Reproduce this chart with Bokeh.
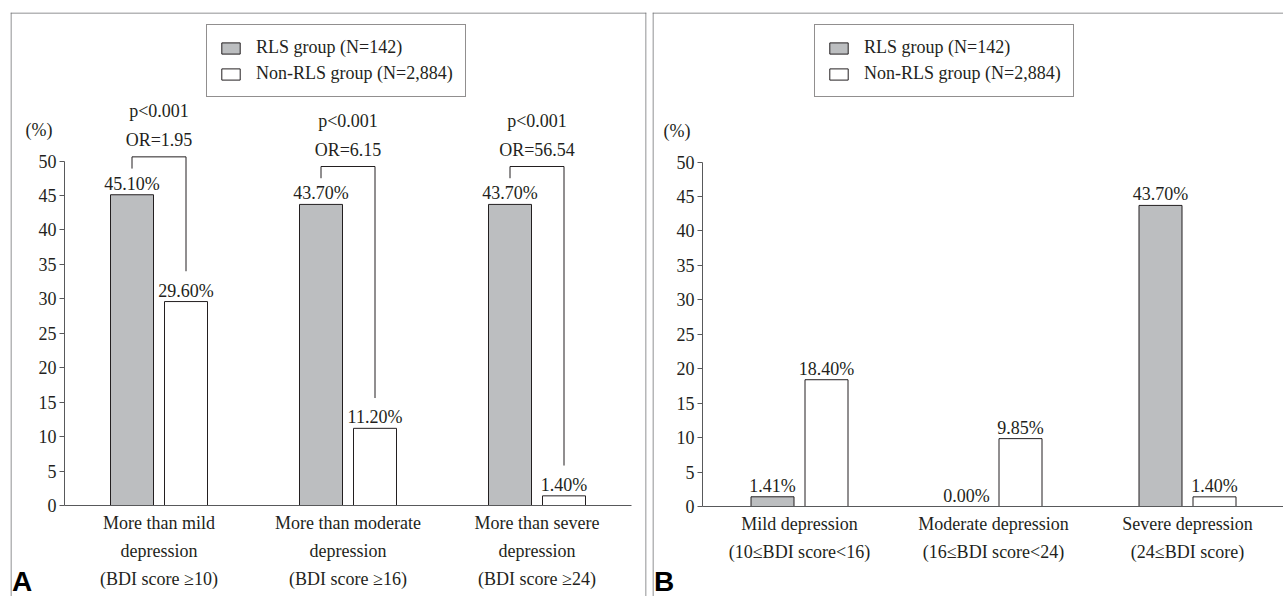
from bokeh.plotting import figure
from bokeh.models import LinearAxis, FixedTicker, Legend, LegendItem, Span
from bokeh.layouts import row
from bokeh.embed import file_html
from bokeh.resources import INLINE
from bokeh.core.properties import value

# ---------------- data ----------------
categories_a = ["More than mild\ndepression\n(BDI score \u226510)",
                "More than moderate\ndepression\n(BDI score \u226516)",
                "More than severe\ndepression\n(BDI score \u226524)"]
categories_b = ["Mild depression\n(10\u2264BDI score<16)",
                "Moderate depression\n(16\u2264BDI score<24)",
                "Severe depression\n(24\u2264BDI score)"]
rls_a = [45.10, 43.70, 43.70]
non_a = [29.60, 11.20, 1.40]
rls_b = [1.41, 0.00, 43.70]
non_b = [18.40, 9.85, 1.40]
p_text = ["p<0.001", "p<0.001", "p<0.001"]
or_text = ["OR=1.95", "OR=6.15", "OR=56.54"]
y_ticks = [0, 5, 10, 15, 20, 25, 30, 35, 40, 45, 50]
series_names = ["RLS group (N=142)", "Non-RLS group (N=2,884)"]

SERIF = "Liberation Serif"
TXT = "#231f20"
GRAY = "#bcbec0"
AXC = "#58595b"
BORDER = "#6d6e71"


def make_panel(cats, rls, non, letter, fig_w, mb_left, mb_right, c0, sx, z,
               legend_x, brackets, right_border):
    fig_h = 596
    mb_top = 12
    frame_w = fig_w - mb_left - mb_right
    frame_h = fig_h - mb_top
    sy = 6.89
    x_start = -c0 / sx
    x_end = (frame_w - c0) / sx
    y_end = z / sy
    y_start = -(frame_h - z) / sy

    p = figure(width=fig_w, height=fig_h, output_backend="svg", toolbar_location=None,
               x_range=(x_start, x_end), y_range=(y_start, y_end),
               x_axis_location=None, y_axis_location=None,
               min_border_left=mb_left, min_border_right=mb_right,
               min_border_top=mb_top, min_border_bottom=0)
    p.outline_line_color = None
    p.grid.visible = False
    p.background_fill_color = "white"
    p.border_fill_color = "white"

    # panel border (left, top, right)
    p.add_layout(Span(location=x_start + 0.5 / sx, dimension="height", line_color=BORDER, line_width=1))
    p.add_layout(Span(location=y_end - 0.5 / sy, dimension="width", line_color=BORDER, line_width=1))
    if right_border:
        p.add_layout(Span(location=x_end - 0.5 / sx, dimension="height", line_color=BORDER, line_width=1))

    # axes
    yax = LinearAxis(fixed_location=-0.5, bounds=(0, 50), ticker=FixedTicker(ticks=y_ticks))
    yax.axis_line_color = AXC
    yax.major_tick_line_color = AXC
    yax.major_tick_out = 5
    yax.major_tick_in = 0
    yax.minor_tick_out = 0
    yax.minor_tick_in = 0
    yax.major_label_standoff = 3
    yax.major_label_text_font = SERIF
    yax.major_label_text_font_size = "18px"
    yax.major_label_text_color = TXT
    p.add_layout(yax, "left")

    xax = LinearAxis(fixed_location=0, bounds=(-0.5, 2.5), ticker=FixedTicker(ticks=[0, 1, 2]))
    xax.major_label_overrides = {i: c for i, c in enumerate(cats)}
    xax.axis_line_color = AXC
    xax.major_tick_out = 0
    xax.major_tick_in = 0
    xax.minor_tick_out = 0
    xax.minor_tick_in = 0
    xax.major_label_standoff = 7
    xax.major_label_text_font = SERIF
    xax.major_label_text_font_size = "18px"
    xax.major_label_text_color = TXT
    xax.major_label_text_line_height = 1.42
    p.add_layout(xax, "below")

    bw = 43 / sx
    off = 27 / sx
    xs = list(range(len(cats)))
    xg = [x - off for x in xs]
    xw = [x + off for x in xs]

    r1 = p.vbar(x=xg, top=rls, bottom=0, width=bw, fill_color=GRAY, line_color=TXT, line_width=1)
    r2 = p.vbar(x=xw, top=non, bottom=0, width=bw, fill_color="white", line_color=TXT, line_width=1)

    lab_r = ["%.2f%%" % v for v in rls]
    lab_n = ["%.2f%%" % v for v in non]
    common = dict(text_font=value(SERIF), text_font_size="18px", text_color=TXT,
                  text_align="center", text_baseline="alphabetic")
    p.text(x=xg, y=rls, text=lab_r, y_offset=-11, **common)
    p.text(x=xw, y=non, text=lab_n, y_offset=-11, **common)

    if brackets:
        bxs = [[g, g, w, w] for g, w in zip(xg, xw)]
        bys = [[r + 3.8, r + 5.5, r + 5.5, n + 4.4] for r, n in zip(rls, non)]
        p.multi_line(xs=bxs, ys=bys, line_color=TXT, line_width=1)
        tops = [r + 5.5 for r in rls]
        p.text(x=xs, y=tops, text=or_text, y_offset=-17, **common)
        p.text(x=xs, y=tops, text=p_text, y_offset=-46, **common)

    # "(%)" unit label
    p.text(x=[-0.5 - 25.5 / sx], y=[50 + 31 / sy], text=["(%)"],
           text_font=value(SERIF), text_font_size="18px", text_color=TXT,
           text_align="center", text_baseline="middle")
    # panel letter
    p.text(x=[x_start + 11.5 / sx], y=[(z - 569) / sy], text=[letter],
           text_font=value("Liberation Sans"), text_font_style="bold", text_font_size="28px",
           text_color="#000000", text_align="center", text_baseline="middle")

    legend = Legend(items=[LegendItem(label=series_names[0], renderers=[r1]),
                           LegendItem(label=series_names[1], renderers=[r2])],
                    location=(legend_x, frame_h - 85), orientation="vertical")
    legend.label_text_font = SERIF
    legend.label_text_font_size = "18px"
    legend.label_text_color = TXT
    legend.glyph_width = 23
    legend.glyph_height = 14
    legend.label_height = 20
    legend.spacing = 5
    legend.padding = 12
    legend.margin = 0
    legend.label_standoff = 14
    legend.border_line_color = TXT
    legend.border_line_width = 1
    legend.background_fill_alpha = 1
    legend.background_fill_color = "white"
    p.add_layout(legend, "center")
    return p


pa = make_panel(categories_a, rls_a, non_a, "A", fig_w=648, mb_left=10, mb_right=2,
                c0=148.5, sx=189.0, z=493.0, legend_x=196,
                brackets=True, right_border=True)
pb = make_panel(categories_b, rls_b, non_b, "B", fig_w=635, mb_left=4, mb_right=0,
                c0=147.0, sx=194.0, z=494.0, legend_x=162,
                brackets=False, right_border=False)

layout = row(pa, pb, spacing=0)
open("out.html", "w").write(file_html(layout, INLINE))
